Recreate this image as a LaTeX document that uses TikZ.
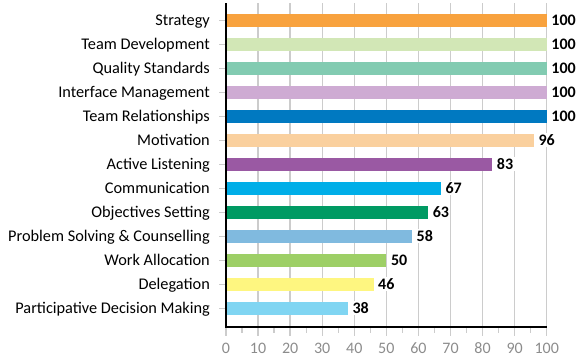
\documentclass[tikz,border=0pt]{standalone}
\usepackage{fontspec}
\setmainfont{Carlito}
\usepackage{tikz}
\usetikzlibrary{positioning}
\definecolor{strategycol}{HTML}{F8A23E}
\definecolor{teamdevcol}{HTML}{D2E7B6}
\definecolor{qualitycol}{HTML}{82CBB1}
\definecolor{interfacecol}{HTML}{CEABD3}
\definecolor{teamrelcol}{HTML}{0079C1}
\definecolor{motivationcol}{HTML}{FAD09E}
\definecolor{listeningcol}{HTML}{9A59A3}
\definecolor{communicationcol}{HTML}{00AEE8}
\definecolor{objectivescol}{HTML}{009A63}
\definecolor{problemcol}{HTML}{80BADF}
\definecolor{workcol}{HTML}{9DCF66}
\definecolor{delegationcol}{HTML}{FEF680}
\definecolor{decisioncol}{HTML}{80D5F2}
\definecolor{axisgray}{HTML}{8C8C8C}
\tikzset{
  catlabel/.style={anchor=base east,inner sep=0pt,font=\fontsize{16.3}{18}\selectfont},
  vallabel/.style={anchor=base west,fill=white,inner sep=1.5pt,font=\bfseries\fontsize{16}{18}\selectfont},
  ticklabel/.style={anchor=base,inner sep=0pt,text=axisgray,font=\fontsize{16}{18}\selectfont},
  gridline/.style={gray!40,line width=1.3pt},
}

\begin{document}
\begin{tikzpicture}[x=1pt,y=-1pt]
  \useasboundingbox (0,0) rectangle (585,359);
  % vertical grid lines
  \foreach \v in {10,20,...,100}{
    \draw[gridline] ({226+3.207*\v},3) -- ({226+3.207*\v},327);}
  % ticks under the axis
  \foreach \v in {5,15,...,95}{
    \draw[gridline] ({226+3.207*\v},327) -- ({226+3.207*\v},333);}
  \foreach \v in {0,10,...,100}{
    \draw[gridline] ({226+3.207*\v},327) -- ({226+3.207*\v},336);
    \node[ticklabel] (tick\v) at ({226+3.207*\v},353) {\v};}

  \foreach \lab/\val/\col [count=\i] in {
      Strategy/100/strategycol,
      Team Development/100/teamdevcol,
      Quality Standards/100/qualitycol,
      Interface Management/100/interfacecol,
      Team Relationships/100/teamrelcol,
      Motivation/96/motivationcol,
      Active Listening/83/listeningcol,
      Communication/67/communicationcol,
      Objectives Setting/63/objectivescol,
      Problem Solving \& Counselling/58/problemcol,
      Work Allocation/50/workcol,
      Delegation/46/delegationcol,
      Participative Decision Making/38/decisioncol}{
    \fill[\col] (226,{20+24*(\i-1)-6.5}) rectangle ({226+3.207*\val},{20+24*(\i-1)+6.5});
    \draw[gridline,line width=1pt] (219,{20+24*(\i-1)}) -- (226,{20+24*(\i-1)});
    \node[catlabel] (cat\i) at (210,{20+24*(\i-1)+5.7}) {\lab};
    \node[vallabel] (val\i) at ({226+3.207*\val+3},{20+24*(\i-1)+5.7}) {\val};}

  % axes
  \draw[line width=1.3pt] (226,3) -- (226,327) -- (547,327);
\end{tikzpicture}
\end{document}
